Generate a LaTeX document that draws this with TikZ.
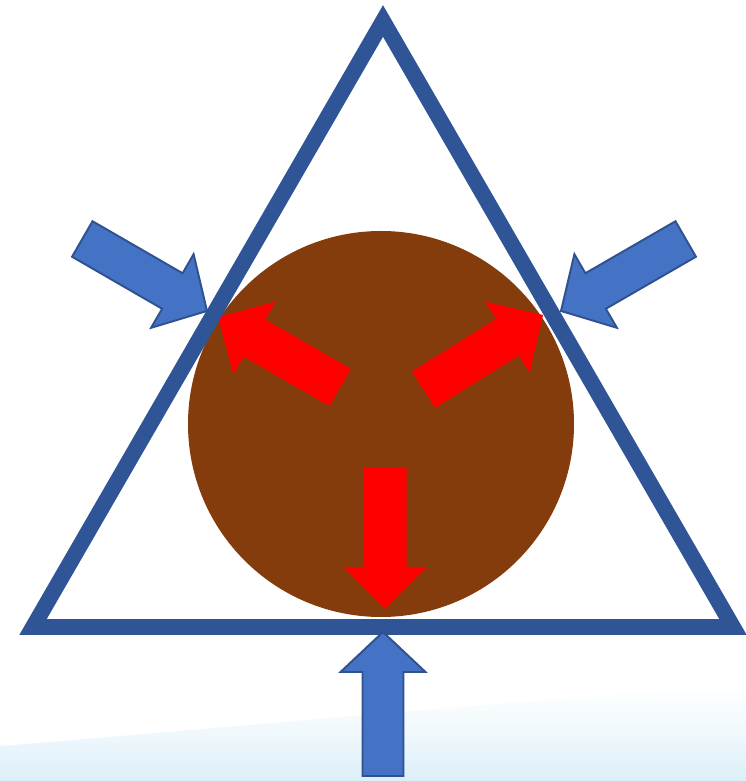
\documentclass[tikz,border=0pt]{standalone}
\usetikzlibrary{calc}
\definecolor{triblue}{RGB}{47,85,151}
\definecolor{pushblue}{RGB}{68,114,196}
\definecolor{pushedge}{RGB}{47,82,143}
\definecolor{ballbrown}{RGB}{132,60,12}
\definecolor{bgblue}{RGB}{220,239,249}
\tikzset{
  pics/blockarrow/.style n args={4}{code={%
    \path[pic actions] (0,0) -- (-#4,#3/2) -- (-#4,#2/2) -- (-#1,#2/2) -- (-#1,-#2/2) -- (-#4,-#2/2) -- (-#4,-#3/2) -- cycle;}},
  push/.style={fill=pushblue,draw=pushedge,line width=1.1pt,line join=miter},
  press/.style={fill=red}
}
\begin{document}
\begin{tikzpicture}[x=0.02cm,y=0.02cm]
\useasboundingbox (0,0) rectangle (746,781);
\shade[top color=white,bottom color=bgblue,middle color=bgblue!45] (0,0) -- (0,35) .. controls (250,55) and (500,80) .. (746,95) -- (746,0) -- cycle;
\coordinate (A) at (33,154); \coordinate (B) at (733,154); \coordinate (C) at (383,760);
\coordinate (O) at (381,357);
\fill[ballbrown] (O) circle (193);
\coordinate (pl) at (218,464); \coordinate (pr) at (543,466); \coordinate (pb) at (385,172);
\pic[press,rotate=150] at (pl) {blockarrow={141}{43}{84}{42}};
\pic[press,rotate=32] at (pr) {blockarrow={141}{43}{84}{42}};
\pic[press,rotate=-90] at (pb) {blockarrow={141}{43}{84}{42}};
\draw[triblue,line width=9pt,line join=miter] (A) -- (B) -- (C) -- cycle;
\coordinate (ql) at (207,470); \coordinate (qr) at (561,470); \coordinate (qb) at (383,149);
\pic[push,rotate=-30] at (ql) {blockarrow={144}{41}{85}{40}};
\pic[push,rotate=210] at (qr) {blockarrow={144}{41}{85}{40}};
\pic[push,rotate=90] at (qb) {blockarrow={144}{41}{85}{40}};
\end{tikzpicture}
\end{document}
